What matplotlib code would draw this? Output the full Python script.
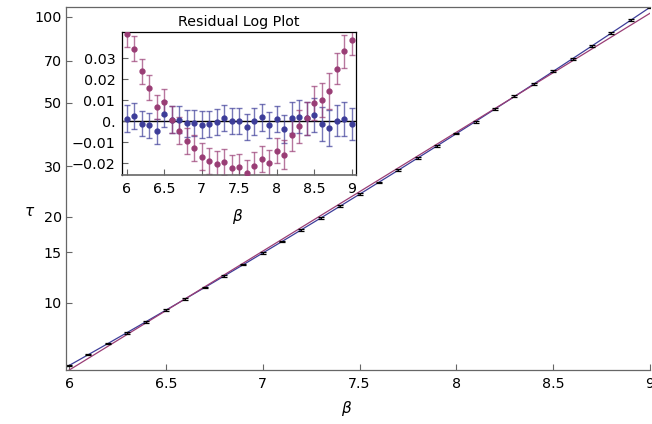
import numpy as np
import matplotlib
matplotlib.use("Agg")
import matplotlib.pyplot as plt
import matplotlib.ticker as mt

plt.rcParams['font.family'] = 'DejaVu Sans'
plt.rcParams['font.size'] = 10.3
plt.rcParams['axes.unicode_minus'] = True

# measured relaxation times and the residuals shown in the inset
beta = [6.0, 6.1, 6.2, 6.3, 6.4, 6.5, 6.6, 6.7, 6.8, 6.9, 7.0, 7.1, 7.2, 7.3, 7.4, 7.5,
        7.6, 7.7, 7.8, 7.9, 8.0, 8.1, 8.2, 8.3, 8.4, 8.5, 8.6, 8.7, 8.8, 8.9, 9.0]
tau = [6.036, 6.598, 7.186, 7.849, 8.562, 9.449, 10.315, 11.297, 12.373, 13.579, 14.887,
       16.353, 17.983, 19.811, 21.753, 23.954, 26.299, 29.054, 32.088, 35.265, 39.041,
       42.901, 47.670, 52.707, 58.244, 64.594, 71.204, 78.735, 87.59, 97.24, 107.65]
err = [0.0063, 0.0061, 0.0060, 0.0059, 0.0058, 0.0063, 0.0063, 0.0063, 0.0063, 0.0062,
       0.0063, 0.0062, 0.0062, 0.0063, 0.0062, 0.0062, 0.0062, 0.0064, 0.0063, 0.0062,
       0.0060, 0.0068, 0.0075, 0.0079, 0.0080, 0.0082, 0.0081, 0.0085, 0.0075, 0.0080, 0.0075]
res_lin = [0.0417, 0.0346, 0.0238, 0.0160, 0.0068, 0.0092, 0.0008, -0.0044, -0.0095, -0.0127,
           -0.0168, -0.0190, -0.0202, -0.0195, -0.0221, -0.0219, -0.0246, -0.0211, -0.0179,
           -0.0197, -0.0141, -0.0159, -0.0067, -0.0024, 0.0014, 0.0087, 0.0100, 0.0144,
           0.0251, 0.0333, 0.0389]
res_quad = [0.0013, 0.0024, -0.0011, -0.0019, -0.0048, 0.0035, 0.0008, 0.0008, -0.0010, -0.0006,
            -0.0016, -0.0011, -0.0003, 0.0017, 0.0002, 0.0003, -0.0027, 0.0000, 0.0019,
            -0.0019, 0.0011, -0.0037, 0.0017, 0.0021, 0.0014, 0.0030, -0.0014, -0.0033,
            0.0003, 0.0010, -0.0014]

blue = '#3d3d99'
red = '#993d75'
grey = '#666666'

b = np.array(beta)
t = np.array(tau)
e = np.array(err)

# fits to log(tau): straight line and parabola
w = 1 / e
p1 = np.polyfit(b, np.log(t), 1, w=w)
p2 = np.polyfit(b, np.log(t), 2, w=w)
bb = np.linspace(5.98, 9.0, 300)

fig = plt.figure(figsize=(6.52, 4.24), dpi=100)
ax = fig.add_axes([66/652, 1-370/424, 584/652, 363/424])
ax.set_yscale('log')
ax.plot(bb, np.exp(np.polyval(p2, bb)), color=blue, lw=0.9)
ax.plot(bb, np.exp(np.polyval(p1, bb)), color=red, lw=0.9)
ax.errorbar(b, t, yerr=t*e, fmt='none', ecolor='black', elinewidth=0.9, capsize=2.2, capthick=0.9)
ax.set_xlim(5.9845, 9.0)
ax.set_ylim(5.817, 108.1)
ax.yaxis.set_major_locator(mt.FixedLocator([10, 15, 20, 30, 50, 70, 100]))
ax.yaxis.set_major_formatter(mt.FixedFormatter(['10', '15', '20', '30', '50', '70', '100']))
ax.yaxis.set_minor_locator(mt.NullLocator())
ax.set_xticks([6, 6.5, 7, 7.5, 8, 8.5, 9])
ax.set_xticklabels(['6', '6.5', '7', '7.5', '8', '8.5', '9'])
ax.tick_params(direction='in', length=4.5, width=0.8, color=grey, pad=3)
ax.tick_params(axis='x', pad=5)
ax.spines['right'].set_visible(False)
for s in ['left', 'bottom', 'top']:
    ax.spines[s].set_color(grey)
    ax.spines[s].set_linewidth(0.9)

fig.text(30/652, 1-212/424, r'$\tau$', fontsize=11, ha='center', va='center',
         family='DejaVu Serif', style='italic')
fig.text(347/652, 1-408/424, r'$\beta$', fontsize=11, ha='center', va='center',
         family='DejaVu Serif', style='italic')

# inset with residuals of log(tau)
ins = fig.add_axes([122.3/652, 1-175/424, 233.7/652, 143.3/424])
ins.set_facecolor('white')
ins.axhline(0, color='black', lw=1.0, zorder=1)
for r, c in [(res_quad, blue), (res_lin, red)]:
    ins.errorbar(b, r, yerr=e, fmt='none', ecolor=c, alpha=0.7, elinewidth=1.0,
                 capsize=2.5, capthick=1.0, zorder=2)
    ins.plot(b, r, 'o', color=c, ms=3.5, zorder=3)
ins.set_xlim(5.941, 9.057)
ins.set_ylim(-0.0256, 0.0427)
ins.set_xticks([6, 6.5, 7, 7.5, 8, 8.5, 9])
ins.set_xticklabels(['6', '6.5', '7', '7.5', '8', '8.5', '9'])
ins.set_yticks([0.03, 0.02, 0.01, 0, -0.01, -0.02])
ins.set_yticklabels(['0.03', '0.02', '0.01', '0.', '\u22120.01', '\u22120.02'])
ins.tick_params(direction='in', length=4, width=0.8, color=grey)
ins.tick_params(axis='y', pad=5)
ins.tick_params(axis='x', pad=5)
for s in ['left', 'top', 'right']:
    ins.spines[s].set_color('black')
    ins.spines[s].set_linewidth(0.9)
ins.spines['bottom'].set_color(grey)
ins.spines['bottom'].set_linewidth(1.2)
ins.set_title('Residual Log Plot', fontsize=10.3, pad=4)
fig.text(238/652, 1-216/424, r'$\beta$', fontsize=11, ha='center', va='center',
         family='DejaVu Serif', style='italic')

fig.savefig('out.png', dpi=100)
